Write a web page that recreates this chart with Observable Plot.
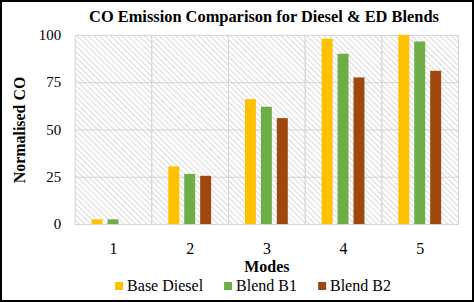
<!DOCTYPE html>
<html><head><meta charset="utf-8">
<script src="https://cdn.jsdelivr.net/npm/d3@7"></script>
<script src="https://cdn.jsdelivr.net/npm/@observablehq/plot@0.6"></script>
<style>
html,body{margin:0;padding:0;background:#fff;}
#wrap{position:relative;width:474px;height:302px;box-sizing:border-box;border:2px solid #000;overflow:hidden;font-family:"Liberation Serif",serif;color:#000;}
#chart{position:absolute;left:-2px;top:-2px;}
#chart svg, #chart svg text{font-family:"Liberation Serif",serif !important;}
#title{position:absolute;left:262px;top:5px;transform:translateX(-50%);white-space:nowrap;font-weight:bold;font-size:16.4px;}
#legend{position:absolute;left:251px;top:275px;transform:translateX(-50%);white-space:nowrap;font-size:16px;display:flex;gap:21px;align-items:center;font-family:"Liberation Serif",serif !important;}
#legend span{font-family:"Liberation Serif",serif !important;}
#legend span.item{display:flex;align-items:center;gap:4px;}
#legend span.sw{display:inline-block;width:8px;height:8px;}
</style>
</head><body>
<div id="wrap">
  <div id="chart"></div>
  <div id="title">CO Emission Comparison for Diesel &amp; ED Blends</div>
  <div id="legend"></div>
</div>
<script>
const modes = [1, 2, 3, 4, 5];
const series = ["Base Diesel", "Blend B1", "Blend B2"];
const baseDiesel = [2.5, 30.5, 66, 98, 100];
const blendB1 = [2.5, 26.5, 62, 90, 96.5];
const blendB2 = [0, 25.5, 56, 77.5, 81];
const colors = ["#FFC000", "#70AD47", "#9E480E"];
const yTicks = [0, 25, 50, 75, 100];

const seriesValues = [baseDiesel, blendB1, blendB2];
const data = [];
modes.forEach((m, i) => series.forEach((s, j) => data.push({mode: m, series: s, value: seriesValues[j][i]})));

const plot = Plot.plot({
  width: 474,
  height: 302,
  marginLeft: 74,
  marginRight: 13,
  marginTop: 35,
  marginBottom: 77,
  style: {fontFamily: "Liberation Serif, serif", fontSize: "15px", color: "#000", background: "transparent"},
  fx: {domain: modes, padding: 0},
  x: {domain: series, paddingInner: 0.29, paddingOuter: 0.91, axis: null},
  y: {domain: [0, 100]},
  color: {domain: series, range: colors},
  marks: [
    Plot.frame({fill: "url(#hatch)", stroke: "#d4d4d4", strokeWidth: 1}),
    Plot.gridY({ticks: [25, 50, 75], stroke: "#d4d4d4", strokeOpacity: 1, strokeWidth: 1}),
    Plot.barY(data, {fx: "mode", x: "series", y: "value", fill: "series"}),
    Plot.axisY({ticks: yTicks, tickSize: 0, tickPadding: 14, fontSize: 15, label: "Normalised CO", labelAnchor: "center", labelArrow: "none", labelOffset: 62}),
    Plot.axisFx({anchor: "bottom", tickSize: 0, tickPadding: 18, fontSize: 16, label: "Modes", labelAnchor: "center", labelArrow: "none", labelOffset: 48})
  ]
});

const defs = d3.create("svg:defs");
const pat = defs.append("pattern").attr("id", "hatch").attr("patternUnits", "userSpaceOnUse")
  .attr("width", 4).attr("height", 4).attr("patternTransform", "rotate(-45)");
pat.append("rect").attr("width", 4).attr("height", 4).attr("fill", "#fff");
pat.append("line").attr("x1", 0.5).attr("y1", 0).attr("x2", 0.5).attr("y2", 4).attr("stroke", "#d9d9d9").attr("stroke-width", 1);
plot.insertBefore(defs.node(), plot.firstChild);

d3.select(plot).selectAll('g[aria-label="y-axis label"] text, g[aria-label="fx-axis label"] text')
  .style("font-weight", "bold").style("font-size", "16px");

document.getElementById("chart").appendChild(plot);

const legend = d3.select("#legend");
series.forEach((s, i) => {
  const it = legend.append("span").attr("class", "item");
  it.append("span").attr("class", "sw").style("background", colors[i]);
  it.append("span").text(s);
});
</script>
</body></html>
